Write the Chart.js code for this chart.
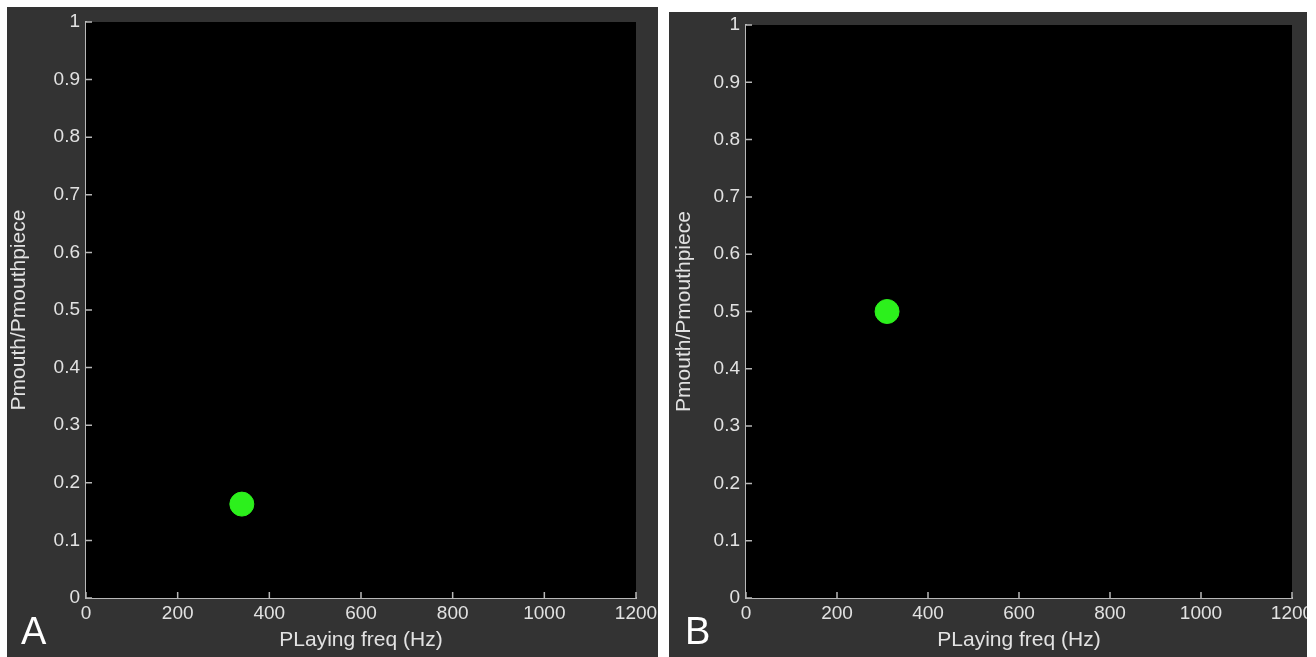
<!DOCTYPE html>
<html>
<head>
<meta charset="utf-8">
<script src="https://cdn.jsdelivr.net/npm/chart.js@4/dist/chart.umd.min.js"></script>
<style>
  body { margin: 0; background: #fff; width: 1316px; height: 657px; overflow: hidden; position: relative; }
  .panel { position: absolute; background: #333333; }
  .panel canvas { position: absolute; left: 0; top: 0; }
  .tag { position: absolute; color: #fff; font-family: "Liberation Sans", Arial, sans-serif; font-size: 38px; }
</style>
</head>
<body>
<div class="panel" id="pa" style="left:7px;top:7px;width:651px;height:650px">
  <canvas id="ca" width="651" height="650"></canvas>
  <div class="tag" style="left:14px;top:603px">A</div>
</div>
<div class="panel" id="pb" style="left:669px;top:12px;width:638px;height:645px">
  <canvas id="cb" width="638" height="645"></canvas>
  <div class="tag" style="left:16px;top:598px">B</div>
</div>
<script>
// data
const freqA = [340];
const ratioA = [0.163];
const freqB = [310];
const ratioB = [0.5];
const xTicks = [0, 200, 400, 600, 800, 1000, 1200];
const yTicks = [0, 0.1, 0.2, 0.3, 0.4, 0.5, 0.6, 0.7, 0.8, 0.9, 1];

const FONT = '"Liberation Sans", Arial, sans-serif';
const AXIS = '#b8b8b8';
const LABEL = '#e2e2e2';
const DOT = '#2cf01c';

// black plot area + short ticks pointing into the plot
const framePlugin = {
  id: 'frame',
  beforeDatasetsDraw(chart) {
    const {ctx, chartArea: a} = chart;
    ctx.save();
    ctx.fillStyle = '#000';
    ctx.fillRect(a.left, a.top, a.right - a.left, a.bottom - a.top);
    ctx.strokeStyle = AXIS;
    ctx.lineWidth = 1.5;
    const x = chart.scales.x, y = chart.scales.y;
    ctx.beginPath();
    for (const v of xTicks) {
      const px = x.getPixelForValue(v);
      ctx.moveTo(px, a.bottom);
      ctx.lineTo(px, a.bottom - 6);
    }
    for (const v of yTicks) {
      const py = y.getPixelForValue(v);
      ctx.moveTo(a.left, py);
      ctx.lineTo(a.left + 6, py);
    }
    ctx.stroke();
    ctx.restore();
  }
};

function makeChart(id, xs, ys, yAxisWidth, xAxisHeight, padTop, padRight, yTitlePad) {
  const pts = xs.map((v, i) => ({x: v, y: ys[i]}));
  return new Chart(document.getElementById(id), {
    type: 'scatter',
    data: {
      datasets: [{
        data: pts,
        backgroundColor: DOT,
        borderColor: DOT,
        pointRadius: 12,
        pointHoverRadius: 12
      }]
    },
    options: {
      responsive: false,
      animation: false,
      events: [],
      layout: { padding: { top: padTop, right: padRight, left: 0, bottom: 0 } },
      plugins: { legend: { display: false }, tooltip: { enabled: false } },
      scales: {
        x: {
          type: 'linear',
          min: 0, max: 1200,
          afterBuildTicks: s => { s.ticks = xTicks.map(v => ({value: v})); },
          afterFit: s => { s.height = xAxisHeight; s.paddingLeft = 0; s.paddingRight = 0; },
          grid: { display: false, drawTicks: false },
          border: { display: true, color: AXIS, width: 2 },
          ticks: { color: LABEL, padding: 4, maxRotation: 0, autoSkip: false,
                   callback: v => String(v),
                   font: { family: FONT, size: 19 } },
          title: { display: true, text: 'PLaying freq (Hz)', color: LABEL,
                   padding: { top: 0, bottom: 4 }, font: { family: FONT, size: 21 } }
        },
        y: {
          type: 'linear',
          min: 0, max: 1,
          afterBuildTicks: s => { s.ticks = yTicks.map(v => ({value: v})); },
          afterFit: s => { s.width = yAxisWidth; s.paddingTop = 0; s.paddingBottom = 0; },
          grid: { display: false, drawTicks: false },
          border: { display: true, color: AXIS, width: 2 },
          ticks: { color: LABEL, padding: 6, autoSkip: false,
                   callback: v => String(Math.round(v * 10) / 10),
                   font: { family: FONT, size: 19 } },
          title: { display: true, text: 'Pmouth/Pmouthpiece', color: LABEL,
                   padding: { top: yTitlePad, bottom: 0 }, font: { family: FONT, size: 21 } }
        }
      }
    },
    plugins: [framePlugin]
  });
}

makeChart('ca', freqA, ratioA, 79, 59, 15, 22, 0);
makeChart('cb', freqB, ratioB, 77, 59, 12, 15, 3);
</script>
</body>
</html>
